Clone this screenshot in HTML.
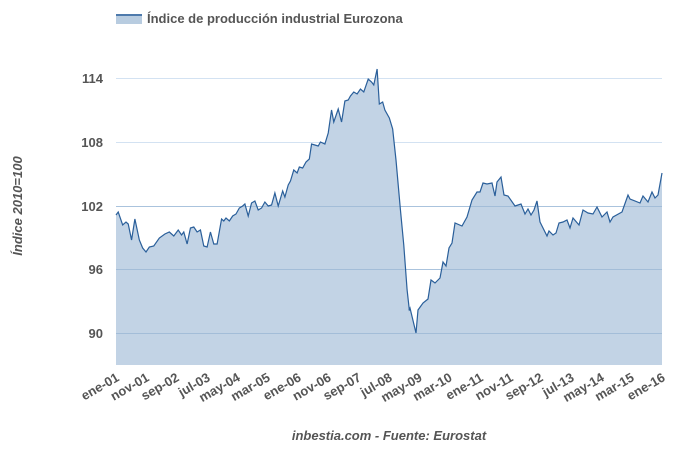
<!DOCTYPE html>
<html><head><meta charset="utf-8"><style>
body{margin:0;background:#fff;width:680px;height:449px;overflow:hidden}
text{font-family:"Liberation Sans",sans-serif}
</style></head><body>
<svg width="680" height="449" viewBox="0 0 680 449">
<rect x="116" y="14" width="26" height="10" fill="#b8cce0"/>
<line x1="116" y1="15" x2="142" y2="15" stroke="#2a5f9a" stroke-width="1.5"/>
<text x="147" y="23" font-size="13" font-weight="bold" fill="#555">Índice de producción industrial Eurozona</text>
<g stroke="#d3e2f2" stroke-width="1">
<line x1="116" y1="78.5" x2="662" y2="78.5"/><line x1="116" y1="142.5" x2="662" y2="142.5"/>
<line x1="116" y1="206.5" x2="662" y2="206.5"/><line x1="116" y1="269.5" x2="662" y2="269.5"/>
<line x1="116" y1="333.5" x2="662" y2="333.5"/>
</g>
<g font-size="13" font-weight="bold" fill="#555" text-anchor="end">
<text x="103" y="83">114</text><text x="103" y="147">108</text><text x="103" y="211">102</text><text x="103" y="274">96</text><text x="103" y="338">90</text>
</g>
<g fill="#c2d3e5" stroke="none">
<polygon transform="translate(116,0) scale(1.1111,1) translate(-116,0)" points="116,365 116,215 118,212 122,225 125,222 127,224 130,240 133,219 137,240 140,248 143,252 146,247 150,246 155,238 160,234 164,232 168,236 172,230 175,235 177,232 180,244 183,228 186,227 189,232 192,230 195,246 198,247 201,232 204,244 207,244 211,219 213,221 215,218 218,221 221,216 224,214 227,208 230,206 232,204 235,216 238,203 241,201 244,210 247,208 250,202 253,206 256,205 259,193 262,206 266,191 268,197 271,185 273,181 276,170 279,173 281,167 284,168 287,162 290,159 292,144 295,145 298,146 300,142 304,144 307,133 310,110 312,122 316,109 319,122 322,101 325,100 327,96 330,92 333,94 336,89 339,92 343,79 346,82 348,85 351,69 353,104 356,102 358,110 362,118 365,129 368,160 372,210 375,245 378,290 380,310 380.5,365"/>
<polygon points="406,365 406,300 409,310 410,308 416,333 418,310 423,303 428,299 431,280 435,283 440,278 443,262 446,266 449,248 452,243 455,223 462,226 467,217 472,200 477,192 480,192 483,183 487,184 492,183 495,196 497,182 501,177 504,195 508,196 515,206 521,204 525,214 528,209 531,215 534,210 537,201 540,222 547,236 549,231 553,235 556,233 559,223 563,222 567,220 570,228 573,218 579,225 583,210 588,213 593,214 597,207 602,217 607,212 610,222 613,217 622,212 628,195 630,199 640,203 643,196 648,202 652,192 655,198 658,195 662,173 662,365"/>
</g>
<g stroke="#8fb0d0" stroke-width="1" opacity="0.6">
<line x1="116" y1="206.5" x2="662" y2="206.5"/><line x1="116" y1="269.5" x2="662" y2="269.5"/><line x1="116" y1="333.5" x2="662" y2="333.5"/>
</g>
<g fill="none" stroke="#2a5f9a" stroke-width="1.2">
<polyline vector-effect="non-scaling-stroke" transform="translate(116,0) scale(1.1111,1) translate(-116,0)" points="116,215 118,212 122,225 125,222 127,224 130,240 133,219 137,240 140,248 143,252 146,247 150,246 155,238 160,234 164,232 168,236 172,230 175,235 177,232 180,244 183,228 186,227 189,232 192,230 195,246 198,247 201,232 204,244 207,244 211,219 213,221 215,218 218,221 221,216 224,214 227,208 230,206 232,204 235,216 238,203 241,201 244,210 247,208 250,202 253,206 256,205 259,193 262,206 266,191 268,197 271,185 273,181 276,170 279,173 281,167 284,168 287,162 290,159 292,144 295,145 298,146 300,142 304,144 307,133 310,110 312,122 316,109 319,122 322,101 325,100 327,96 330,92 333,94 336,89 339,92 343,79 346,82 348,85 351,69 353,104 356,102 358,110 362,118 365,129 368,160 372,210 375,245 378,290 380,310 381,309"/>
<polyline points="409,310 410,308 416,333 418,310 423,303 428,299 431,280 435,283 440,278 443,262 446,266 449,248 452,243 455,223 462,226 467,217 472,200 477,192 480,192 483,183 487,184 492,183 495,196 497,182 501,177 504,195 508,196 515,206 521,204 525,214 528,209 531,215 534,210 537,201 540,222 547,236 549,231 553,235 556,233 559,223 563,222 567,220 570,228 573,218 579,225 583,210 588,213 593,214 597,207 602,217 607,212 610,222 613,217 622,212 628,195 630,199 640,203 643,196 648,202 652,192 655,198 658,195 662,173"/>
</g>
<g font-size="13" font-weight="bold" fill="#555" text-anchor="end">
<text transform="translate(120,380) rotate(-30)">ene-01</text>
<text transform="translate(150,380) rotate(-30)">nov-01</text>
<text transform="translate(180,380) rotate(-30)">sep-02</text>
<text transform="translate(211,380) rotate(-30)">jul-03</text>
<text transform="translate(241,380) rotate(-30)">may-04</text>
<text transform="translate(271,380) rotate(-30)">mar-05</text>
<text transform="translate(302,380) rotate(-30)">ene-06</text>
<text transform="translate(332,380) rotate(-30)">nov-06</text>
<text transform="translate(362,380) rotate(-30)">sep-07</text>
<text transform="translate(393,380) rotate(-30)">jul-08</text>
<text transform="translate(423,380) rotate(-30)">may-09</text>
<text transform="translate(453,380) rotate(-30)">mar-10</text>
<text transform="translate(484,380) rotate(-30)">ene-11</text>
<text transform="translate(514,380) rotate(-30)">nov-11</text>
<text transform="translate(544,380) rotate(-30)">sep-12</text>
<text transform="translate(575,380) rotate(-30)">jul-13</text>
<text transform="translate(605,380) rotate(-30)">may-14</text>
<text transform="translate(635,380) rotate(-30)">mar-15</text>
<text transform="translate(666,380) rotate(-30)">ene-16</text>
</g>
<text x="389" y="440" font-size="13" font-weight="bold" font-style="italic" fill="#555" text-anchor="middle">inbestia.com - Fuente: Eurostat</text>
<text transform="translate(22,206) rotate(-90)" font-size="13" font-weight="bold" font-style="italic" fill="#555" text-anchor="middle">Índice 2010=100</text>
</svg>
</body></html>
